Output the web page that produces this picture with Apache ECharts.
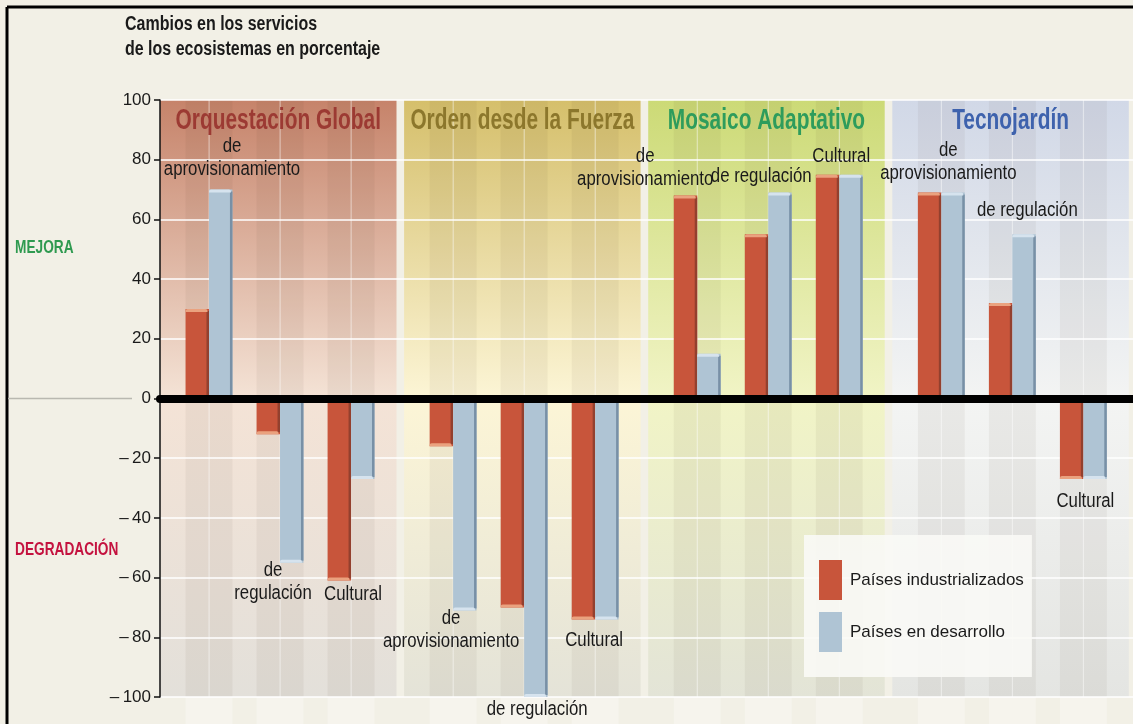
<!DOCTYPE html>
<html>
<head>
<meta charset="utf-8">
<script src="https://cdn.jsdelivr.net/npm/echarts@6/dist/echarts.min.js"></script>
<style>
html, body { margin: 0; padding: 0; background: #f2f0e6; }
#main { width: 1133px; height: 724px; }
</style>
</head>
<body>
<div id="main"></div>
<script>
var FONT = "'Liberation Sans', Arial, sans-serif";
var NARROW = 0.84;   // horizontal squeeze to mimic the condensed face

// datos
var escenarios = ['Orquestación Global', 'Orden desde la Fuerza', 'Mosaico Adaptativo', 'Tecnojardín'];
var servicios = ['de aprovisionamiento', 'de regulación', 'Cultural'];
var industrializados = [30, -12, -61, -16, -70, -74, 68, 55, 75, 69, 32, -27];
var enDesarrollo = [70, -55, -27, -71, -100, -74, 15, 69, 75, 69, 55, -27];
var yMin = -100, yMax = 100, yStep = 20;

// x axis counted in "slots" (one slot = one pair of bars)
var firstSlot = 0.69, groupStep = 3.437, barW = 0.33, panelW = 3.33, xMax = 13.7;
function slotPos(i) { return firstSlot + Math.floor(i / 3) * groupStep + (i % 3); }

var panelStyle = [
    { title: '#9c3a33', stops: ['#c6836a', '#f4e3d6', '#e3e0da'] },
    { title: '#8c772c', stops: ['#d5bf6b', '#fcf5d6', '#e4e3d8'] },
    { title: '#2e9c5c', stops: ['#ccda76', '#f1f4c6', '#e3e4d7'] },
    { title: '#3e62ad', stops: ['#d1d8e7', '#f3f4f3', '#e4e5e2'] }
];
// offset (px) of each service label from the end of its pair, wrap = first space -> line break
var labelPos = [
    [23, -32, 1], [-7, 19, 1], [2, 14, 0],
    [-2, 20, 1], [13, 12, 0], [-1, 21, 0],
    [-52, -28, 1], [-7, -16, 0], [2, -18, 0],
    [7, -31, 1], [15, -24, 0], [2, 22, 0]
];

function barSeries(name, values, side, face, edge, cap) {
    return {
        type: 'custom',
        name: name,
        z: 3,
        itemStyle: { color: face },
        encode: { x: 0, y: 1 },
        data: values.map(function (v, i) { return [slotPos(i), v]; }),
        renderItem: function (params, api) {
            var x = api.value(0), v = api.value(1);
            var base = api.coord([x, 0]), end = api.coord([x, v]);
            var w = api.size([barW, 0])[0];
            var x0 = side < 0 ? base[0] - w : base[0];
            var top = Math.min(base[1], end[1]), h = Math.abs(end[1] - base[1]);
            var capY = v >= 0 ? end[1] : end[1] - 3;
            return {
                type: 'group',
                children: [
                    { type: 'rect', shape: { x: x0, y: top, width: w, height: h }, style: { fill: face } },
                    { type: 'rect', shape: { x: x0 + w - 2.5, y: top + (v >= 0 ? 2 : 0), width: 2.5, height: h - 2 }, style: { fill: edge } },
                    { type: 'rect', shape: { x: x0, y: capY, width: w - 1.5, height: 3, r: [2, 2, 0, 0] }, style: { fill: cap } }
                ]
            };
        }
    };
}

var panelSeries = {
    type: 'custom',
    z: 0,
    silent: true,
    encode: { x: 0 },
    data: escenarios.map(function (e, g) { return [g * groupStep, g]; }),
    renderItem: function (params, api) {
        var g = api.value(1), s = api.value(0), st = panelStyle[g];
        var tl = api.coord([s, yMax]), br = api.coord([s + panelW, yMin]);
        var kids = [{
            type: 'rect',
            shape: { x: tl[0], y: tl[1], width: br[0] - tl[0], height: br[1] - tl[1] },
            style: { fill: new echarts.graphic.LinearGradient(0, 0, 0, 1, [
                { offset: 0, color: st.stops[0] },
                { offset: 0.5, color: st.stops[1] },
                { offset: 1, color: st.stops[2] }
            ]) }
        }];
        for (var k = 0; k < 3; k++) {
            var c = s + firstSlot + k;
            var a = api.coord([c - barW, 0])[0], m = api.coord([c, 0])[0], b = api.coord([c + barW, 0])[0];
            kids.push({ type: 'rect', shape: { x: a, y: tl[1], width: b - a, height: br[1] - tl[1] }, style: { fill: 'rgba(60,40,20,0.05)' } });
            kids.push({ type: 'rect', shape: { x: m - 0.5, y: tl[1], width: 1.2, height: br[1] - tl[1] }, style: { fill: 'rgba(255,255,255,0.45)' } });
            kids.push({ type: 'rect', shape: { x: a, y: br[1], width: b - a, height: 40 }, style: { fill: 'rgba(255,255,255,0.3)' } });
        }
        kids.push({
            type: 'text', x: (tl[0] + br[0]) / 2, y: tl[1] + 21, scaleX: 0.72,
            style: { text: escenarios[g], fill: st.title, font: 'bold 29px ' + FONT, align: 'center', verticalAlign: 'middle' }
        });
        return { type: 'group', children: kids };
    }
};

var labelSeries = {
    type: 'custom',
    z: 5,
    silent: true,
    encode: { x: 0, y: 1 },
    data: industrializados.map(function (v, i) {
        var w = enDesarrollo[i];
        return [slotPos(i), (v + w) >= 0 ? Math.max(v, w) : Math.min(v, w)];
    }),
    renderItem: function (params, api) {
        var i = params.dataIndex, L = labelPos[i];
        var p = api.coord([api.value(0), api.value(1)]);
        var txt = servicios[i % 3];
        if (L[2]) txt = txt.replace(' ', '\n');
        return {
            type: 'text', x: p[0] + L[0], y: p[1] + L[1], scaleX: NARROW,
            style: { text: txt, fill: '#1a1a1a', font: '20px ' + FONT, align: 'center', verticalAlign: 'middle', lineHeight: 23 }
        };
    }
};

var dom = document.getElementById('main');
var myChart = echarts.init(dom);
var option = {
    backgroundColor: '#f2f0e6',
    animation: false,
    grid: { left: 160, right: 0, top: 100, bottom: 27 },
    legend: {
        orient: 'vertical',
        left: 804,
        top: 535,
        selectedMode: false,
        padding: [25, 8, 25, 15],
        itemWidth: 23,
        itemHeight: 40,
        itemGap: 12,
        backgroundColor: 'rgba(249,249,246,0.9)',
        textStyle: { fontFamily: FONT, fontSize: 17, color: '#1a1a1a', padding: [0, 0, 0, 3] },
        data: [
            { name: 'Países industrializados', icon: 'rect', itemStyle: { color: '#c8553b' } },
            { name: 'Países en desarrollo', icon: 'rect', itemStyle: { color: '#afc4d4' } }
        ]
    },
    xAxis: {
        type: 'value', min: 0, max: xMax, z: 4,
        axisLine: { show: true, onZero: true, lineStyle: { color: '#000', width: 8 } },
        axisTick: { show: false }, axisLabel: { show: false }, splitLine: { show: false }
    },
    yAxis: {
        type: 'value', min: yMin, max: yMax, interval: yStep, z: 1,
        axisLine: { show: true, lineStyle: { color: '#111', width: 1.5 } },
        axisTick: { show: true, length: 6, lineStyle: { color: '#111', width: 1.5 } },
        axisLabel: {
            fontFamily: FONT, fontSize: 17, color: '#1a1a1a', margin: 9,
            formatter: function (v) { return v < 0 ? '\u2013\u2009' + (-v) : '' + v; }
        },
        splitLine: { show: true, lineStyle: { color: '#ffffff', width: 1.5 } }
    },
    graphic: [
        { type: 'line', shape: { x1: 7, y1: 7, x2: 1133, y2: 7 }, style: { stroke: '#000', lineWidth: 3 } },
        { type: 'line', shape: { x1: 7, y1: 7, x2: 7, y2: 724 }, style: { stroke: '#000', lineWidth: 3 } },
        { type: 'line', shape: { x1: 8, y1: 398.5, x2: 132, y2: 398.5 }, style: { stroke: '#b9b8b0', lineWidth: 1.5 } },
        { type: 'text', x: 125, y: 12, scaleX: 0.8, style: { text: 'Cambios en los servicios\nde los ecosistemas en porcentaje', font: 'bold 20px ' + FONT, fill: '#1a1a1a', lineHeight: 25 } },
        { type: 'text', x: 15, y: 248, scaleX: 0.76, style: { text: 'MEJORA', font: 'bold 18px ' + FONT, fill: '#2f9a50', verticalAlign: 'middle' } },
        { type: 'text', x: 15, y: 550, scaleX: 0.76, style: { text: 'DEGRADACIÓN', font: 'bold 18px ' + FONT, fill: '#c4123f', verticalAlign: 'middle' } }
    ],
    series: [
        panelSeries,
        barSeries('Países industrializados', industrializados, -1, '#c8553b', '#93402e', '#eaa27f'),
        barSeries('Países en desarrollo', enDesarrollo, 1, '#afc4d4', '#7890a6', '#d6e3ee'),
        labelSeries
    ]
};
myChart.setOption(option, true);
</script>
</body>
</html>
